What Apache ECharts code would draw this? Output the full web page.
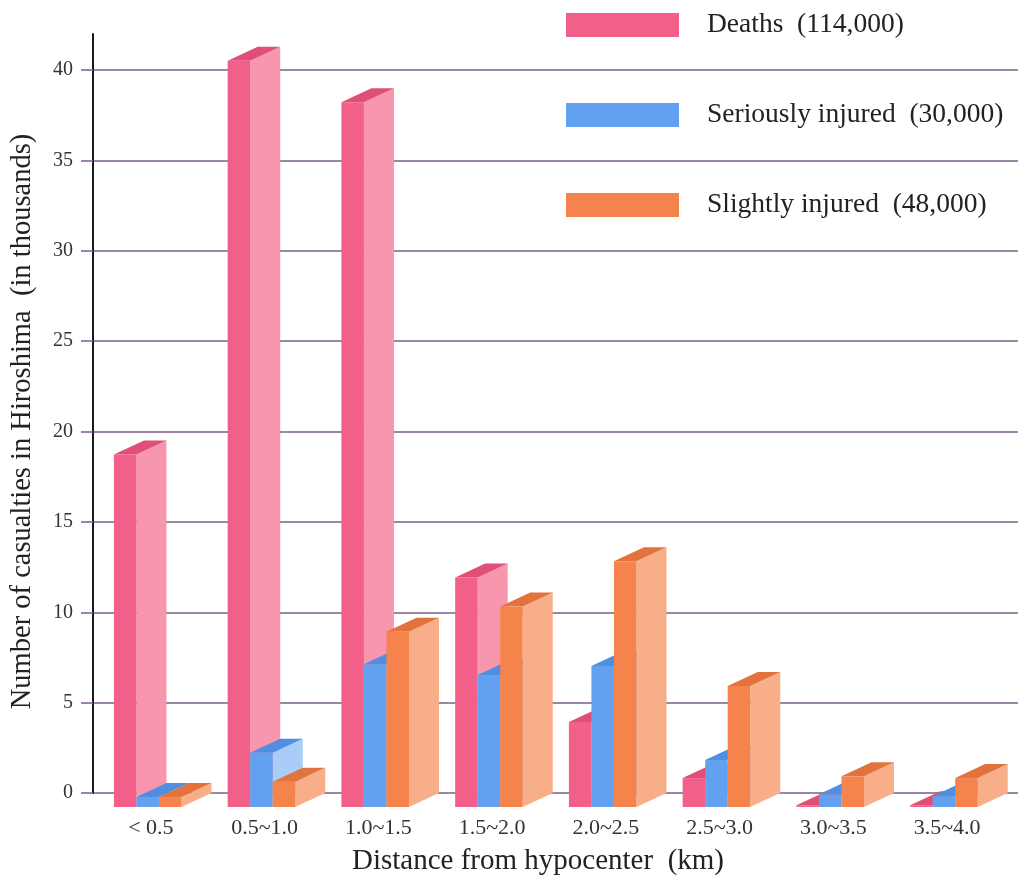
<!DOCTYPE html>
<html>
<head>
<meta charset="utf-8">
<title>Casualties in Hiroshima by distance from hypocenter</title>
<script src="https://cdn.jsdelivr.net/npm/echarts@6/dist/echarts.min.js"></script>
<style>
  html, body { margin: 0; padding: 0; background: #ffffff; }
  #chart { width: 1028px; height: 883px; }
</style>
</head>
<body>
<div id="chart"></div>
<script>
// Distance bands (km) from the hypocenter
const categories = ['< 0.5', '0.5~1.0', '1.0~1.5', '1.5~2.0', '2.0~2.5', '2.5~3.0', '3.0~3.5', '3.5~4.0'];

// Casualties per band, in thousands
const deaths  = [19.5, 41.3, 39.0, 12.7, 4.7, 1.6, 0.1, 0.1];
const serious = [0.55, 3.0, 7.9, 7.3, 7.8, 2.6, 0.7, 0.6];
const slight  = [0.55, 1.4, 9.7, 11.1, 13.6, 6.7, 1.7, 1.6];

// Legend labels with totals
const seriesNames = ['Deaths  (114,000)', 'Seriously injured  (30,000)', 'Slightly injured  (48,000)'];

// Y-axis tick values
const yTicks = [0, 5, 10, 15, 20, 25, 30, 35, 40];

const serif = 'Liberation Serif';
const gridColor = '#7a5c8c';

// front / side / top face colours of each box
const palette = [
  { front: '#f2608a', side: '#f796ac', top: '#df4f78' },
  { front: '#62a1f0', side: '#a9cdf7', top: '#4f8ee0' },
  { front: '#f5844c', side: '#f8ae88', top: '#e2733d' }
];

// Draws one pseudo-3D box: front face, right side face and top face.
function boxRenderer(s) {
  return function (params, api) {
    const c = api.value(0);
    const v = api.value(1);
    const top = api.coord([c, v]);
    const base = api.coord([c, 0]);
    const band = api.size([1, 0])[0];
    const w = band * 0.198;     // front width of a single box
    const dx = band * 0.264;    // horizontal depth
    const dy = 14;              // vertical depth
    const x0 = top[0] - band * 0.325 + s * w;
    const yT = top[1] + dy;
    const yB = base[1] + dy;
    const col = palette[s];
    return {
      type: 'group',
      children: [
        {
          type: 'polygon',
          shape: { points: [[x0 + w, yB], [x0 + w, yT], [x0 + w + dx, yT - dy], [x0 + w + dx, yB - dy]] },
          style: { fill: col.side }
        },
        {
          type: 'polygon',
          shape: { points: [[x0, yT], [x0 + w, yT], [x0 + w + dx, yT - dy], [x0 + dx, yT - dy]] },
          style: { fill: col.top }
        },
        {
          type: 'rect',
          shape: { x: x0, y: yT, width: w, height: yB - yT },
          style: { fill: col.front }
        }
      ]
    };
  };
}

const seriesValues = [deaths, serious, slight];

const chart = echarts.init(document.getElementById('chart'), null, { renderer: 'canvas' });

chart.setOption({
  backgroundColor: '#ffffff',
  animation: false,
  legend: {
    orient: 'vertical',
    left: 566,
    top: 11,
    padding: 0,
    itemWidth: 113,
    itemHeight: 24,
    itemGap: 62,
    selectedMode: false,
    data: seriesNames.map(n => ({ name: n, icon: 'rect' })),
    textStyle: {
      fontFamily: serif,
      fontSize: 27.5,
      color: '#222',
      lineHeight: 24,
      padding: [0, 0, 0, 23]
    }
  },
  grid: [
    { left: 92, right: 10, top: 34, bottom: 90 },
    { left: 94, right: 24, top: 34, bottom: 90 }
  ],
  xAxis: [
    { gridIndex: 0, type: 'value', min: 0, max: 1, show: false },
    {
      gridIndex: 1,
      type: 'category',
      data: categories,
      axisLine: { show: false },
      axisTick: { show: false },
      axisLabel: { fontFamily: serif, fontSize: 22, color: '#333', margin: 24 },
      name: 'Distance from hypocenter  (km)',
      nameLocation: 'middle',
      nameGap: 54,
      nameTextStyle: { fontFamily: serif, fontSize: 29, color: '#222', padding: [0, 22, 0, 0] }
    }
  ],
  yAxis: [
    {
      gridIndex: 0,
      type: 'value',
      min: 0,
      max: 42,
      interval: 5,
      axisLine: { show: true, lineStyle: { color: '#1a1a1a', width: 2 } },
      axisTick: { show: true, length: 12, customValues: yTicks, lineStyle: { color: gridColor, width: 1.5 } },
      axisLabel: { customValues: yTicks, fontFamily: serif, fontSize: 20, color: '#333', margin: 20 },
      splitLine: { show: true, lineStyle: { color: gridColor, width: 1.5 } },
      name: 'Number of casualties in Hiroshima  (in thousands)',
      nameLocation: 'middle',
      nameGap: 56,
      nameTextStyle: { fontFamily: serif, fontSize: 28.5, color: '#222', padding: [0, 16, 0, 0] }
    },
    { gridIndex: 1, type: 'value', min: 0, max: 42, show: false }
  ],
  series: seriesValues.map((vals, s) => ({
    type: 'custom',
    name: seriesNames[s],
    xAxisIndex: 1,
    yAxisIndex: 1,
    clip: false,
    itemStyle: { color: palette[s].front },
    encode: { x: 0, y: 1 },
    data: vals.map((v, i) => [i, v]),
    renderItem: boxRenderer(s)
  }))
});
</script>
</body>
</html>
